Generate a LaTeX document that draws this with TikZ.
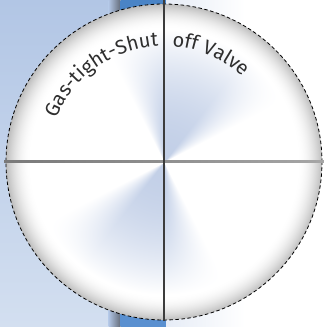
\documentclass[tikz,border=0pt]{standalone}
\usepackage{fontspec}
\setmainfont{Fira Sans}
\usetikzlibrary{decorations.text}
\definecolor{bgt}{HTML}{B2C6E5}
\definecolor{bgb}{HTML}{D3DFF0}
\definecolor{bandgray}{HTML}{646C7A}
\definecolor{blueT}{HTML}{4A84C6}
\definecolor{blueB}{HTML}{5A90D0}
\definecolor{paleblue}{HTML}{E6ECF6}
\definecolor{linedark}{HTML}{3C3C3C}
\definecolor{textc}{HTML}{2E2E2E}
\pgfdeclarefunctionalshading{disc}{\pgfpoint{-50bp}{-50bp}}{\pgfpoint{50bp}{50bp}}{}{
  exch 0.001 add exch
  2 copy dup mul exch dup mul add sqrt
  3 1 roll
  exch atan
  72 sub 2 mul cos 1.3 mul
  dup 0 lt {pop 0} if
  dup 1 gt {pop 1} if
  1 index 21 div dup mul 1 exch sub dup 0 lt {pop 0} if
  mul 0.85 mul
  exch
  21 sub dup 0 lt {pop 0} if 4 div dup mul 0.26 mul 1 exch sub
  1 index 0.28 mul 1 exch sub 1 index mul
  2 index 0.22 mul 1 exch sub 2 index mul
  3 index 0.11 mul 1 exch sub 3 index mul
  5 3 roll pop pop
}
\tikzset{
  rimdash/.style={draw=black, dash pattern=on 3.5bp off 2.5bp, line width=0.8bp},
  arctext/.style={decorate, decoration={text along path, text align=left, text color=textc}}
}
\begin{document}
\begin{tikzpicture}[x=1bp,y=1bp]
\useasboundingbox (0,0) rectangle (324,327);
% background
\shade[top color=bgt, bottom color=bgb] (0,0) rectangle (109,327);
\shade[left color=bgt, right color=bandgray] (108.5,0) rectangle (120.5,327);
\shade[top color=blueT, bottom color=blueB] (120.5,0) rectangle (166,327);
\shade[left color=paleblue, right color=white] (166,0) rectangle (245,327);
\fill[white] (245,0) rectangle (324,327);
\coordinate (C) at (164,165);
% disc
\shade[shading=disc] (C) circle (158);
\path[rimdash] (C) circle (158);
% axes
\shade[left color=gray!95!black, right color=gray!70] (4,164) rectangle (324,166.2);
\draw[line width=1.4bp, linedark] (164,327) -- (164,6);
% text
\path[arctext, decoration={text={|\fontsize{20}{20}\selectfont|Gas-tight-Shut}}]
  (C) ++(158:116) arc[start angle=158, end angle=94, radius=116];
\path[arctext, decoration={text={|\fontsize{20}{20}\selectfont|off Valve}}]
  (C) ++(86:116) arc[start angle=86, end angle=40, radius=116];
\end{tikzpicture}
\end{document}
